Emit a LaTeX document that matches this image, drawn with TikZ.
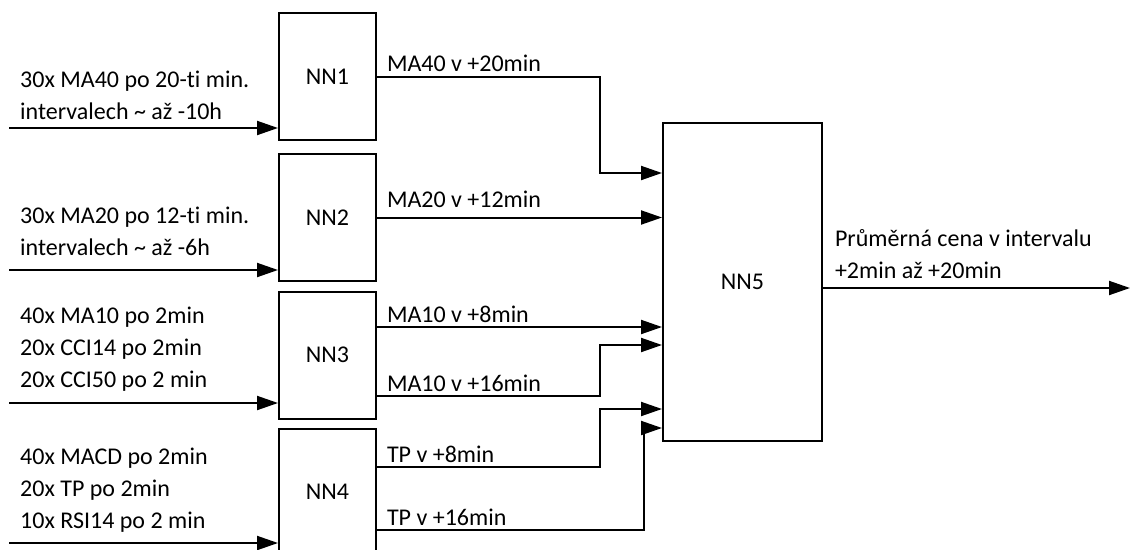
\documentclass[tikz,border=0pt]{standalone}
\usepackage{fontspec}
\setmainfont[Ligatures=NoCommon]{Carlito}
\usetikzlibrary{positioning,arrows.meta,calc}

\tikzset{
  nnbox/.style={draw, line width=2pt, minimum width=97pt, minimum height=127pt, inner sep=0pt},
  wire/.style={line width=2pt, -{Triangle[length=21pt,width=14pt]}},
  inlbl/.style={anchor=west, align=left, inner sep=0pt},
  outlbl/.style={anchor=base west, inner sep=0pt, xshift=9pt, yshift=5pt},
}

\begin{document}
\begin{tikzpicture}[x=1pt,y=-1pt,font=\fontsize{24}{32}\selectfont]
\useasboundingbox (0,0) rectangle (1131,549);
% networks
\node[nnbox] (nn1) at (327.5,76.5) {NN1};
\node[nnbox] (nn2) at (327.5,217.5) {NN2};
\node[nnbox] (nn3) at (327.5,355) {NN3};
\node[nnbox] (nn4) at (327.5,492) {NN4};
\node[nnbox, minimum width=159pt, minimum height=318pt] (nn5) at (742.5,282) {NN5};

% inputs
\coordinate (in1) at (9,128);
\coordinate (in2) at (9,270);
\coordinate (in3) at (9,403);
\coordinate (in4) at (9,543);
\draw[wire] (in1) -- (in1 -| nn1.west);
\draw[wire] (in2) -- (in2 -| nn2.west);
\draw[wire] (in3) -- (in3 -| nn3.west);
\draw[wire] (in4) -- (in4 -| nn4.west);
\node[inlbl] (t1) at (20,95) {30x MA40 po 20-ti min.\\intervalech \textasciitilde{} až -10h};
\node[inlbl] (t2) at (20,231) {30x MA20 po 12-ti min.\\intervalech \textasciitilde{} až -6h};
\node[inlbl] (t3) at (20,349) {40x MA10 po 2min\\20x CCI14 po 2min\\20x CCI50 po 2 min};
\node[inlbl] (t4) at (20,490) {40x MACD po 2min\\20x TP po 2min\\10x RSI14 po 2 min};

% entries of NN5
\coordinate (e1) at (nn5.west |- 0,173);
\coordinate (e2) at (nn5.west |- nn2.east);
\coordinate (e3) at (nn5.west |- 0,327);
\coordinate (e4) at (nn5.west |- 0,345);
\coordinate (e5) at (nn5.west |- 0,409);
\coordinate (e6) at (nn5.west |- 0,428);

\draw[wire] (nn1.east) -- node[outlbl,pos=0] (l1) {MA40 v +20min} ++(223,0) |- (e1);
\draw[wire] (nn2.east) -- node[outlbl,pos=0,yshift=5pt] (l2) {MA20 v +12min} (e2);
\draw[wire] (nn3.east |- e3) -- node[outlbl,pos=0] (l3) {MA10 v +8min} (e3);
\draw[wire] (nn3.east |- 0,396) -- node[outlbl,pos=0] (l4) {MA10 v +16min} ++(223,0) |- (e4);
\draw[wire] (nn4.east |- 0,467) -- node[outlbl,pos=0] (l5) {TP v +8min} ++(223,0) |- (e5);
\draw[wire] (nn4.east |- 0,530) -- node[outlbl,pos=0] (l6) {TP v +16min} ++(267,0) |- (e6);

% output
\coordinate (out) at (1130,288);
\draw[wire] (nn5.east |- out) -- node[pos=0, anchor=south west, align=left, inner sep=0pt, xshift=11pt, yshift=8pt] (l7) {Průměrná cena v intervalu\\+2min až +20min} (out);
\end{tikzpicture}
\end{document}
